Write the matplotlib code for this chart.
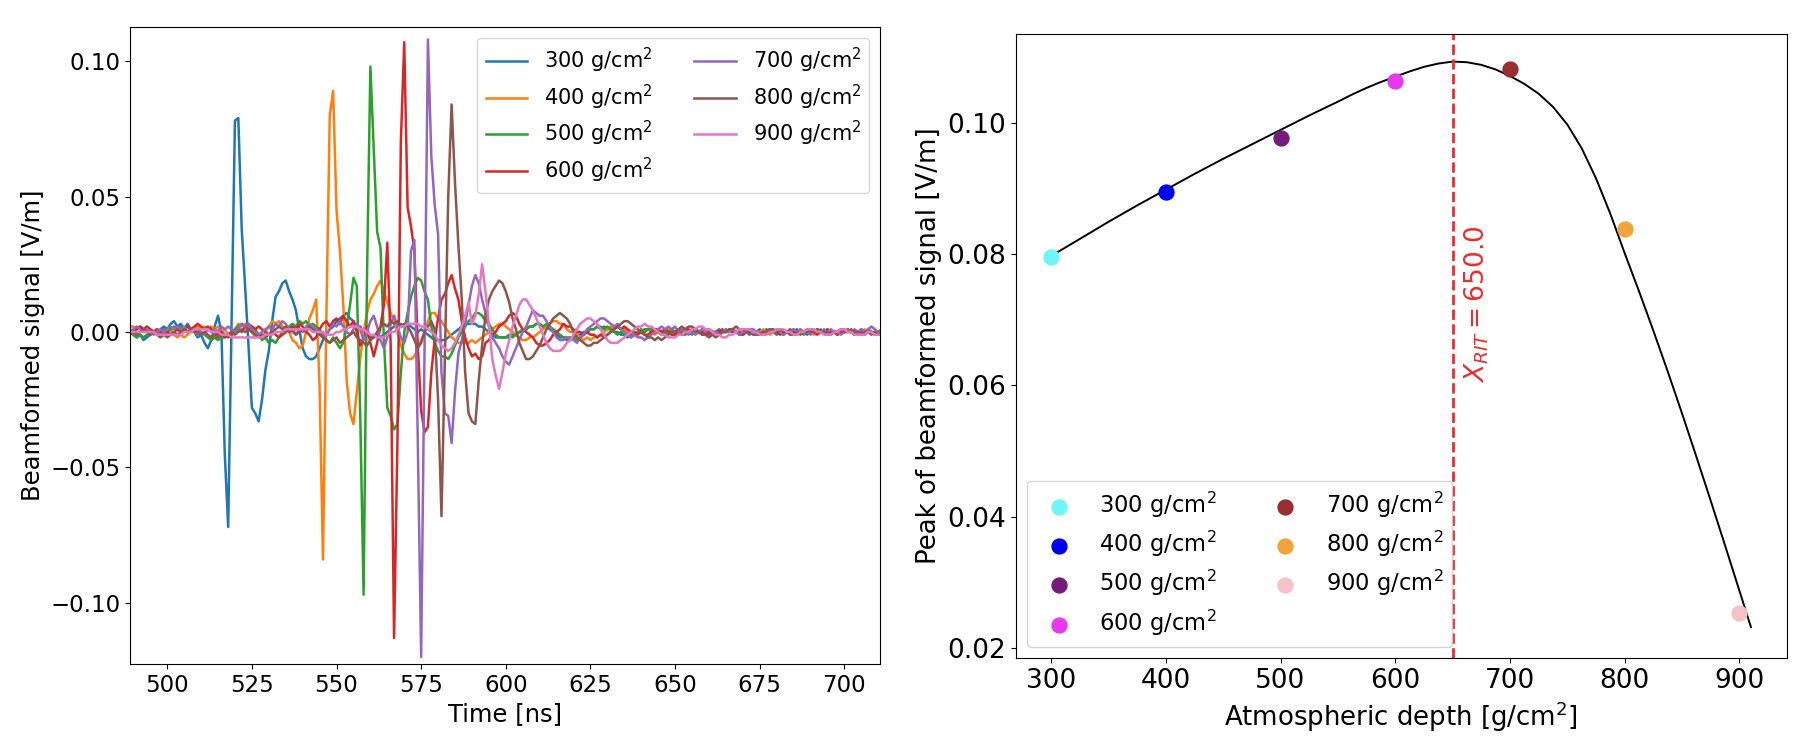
"""Beamformed traces per atmospheric depth and their peak amplitude. Writes out.png."""

import matplotlib
matplotlib.use("Agg")
import matplotlib.pyplot as plt
import numpy as np

# --- left panel: beamformed traces, 1 ns samples from 485 ns to 714 ns ---
TIME_NS = np.arange(485, 715)
DEPTHS: list[int] = [300, 400, 500, 600, 700, 800, 900]

TRACE_300 = [
    0.001, 0.000, 0.001, -0.001, 0.000, -0.001, -0.002, -0.001, -0.003, -0.002,   # 485
    -0.001, 0.000, -0.001, 0.001, 0.002, 0.001, 0.003, 0.004, 0.002, 0.003,       # 495
    0.001, 0.003, 0.001, 0.000, -0.002, -0.001, -0.004, -0.006, -0.003, 0.002,    # 505
    0.006, 0.000, -0.045, -0.072, 0.003, 0.078, 0.079, 0.038, 0.017, -0.005,      # 515
    -0.028, -0.030, -0.033, -0.025, -0.014, -0.007, 0.004, 0.013, 0.015, 0.018,   # 525
    0.019, 0.015, 0.012, 0.008, 0.001, -0.006, -0.009, -0.010, -0.010, -0.009,    # 535
    -0.006, -0.003, -0.001, 0.001, 0.002, 0.004, 0.005, 0.006, 0.007, 0.005,      # 545
    0.004, 0.002, 0.002, 0.000, -0.001, -0.002, -0.002, -0.001, -0.002, -0.001,   # 555
    0.000, 0.001, 0.002, 0.003, 0.003, 0.002, 0.003, 0.002, 0.001, 0.000,         # 565
    0.001, 0.000, -0.001, -0.002, -0.003, -0.003, -0.003, -0.003, -0.002, -0.001, # 575
    0.000, 0.001, 0.002, 0.003, 0.003, 0.003, 0.003, 0.002, 0.002, 0.001,         # 585
    0.000, -0.001, -0.002, -0.002, -0.002, -0.002, -0.002, -0.001, -0.001, 0.000, # 595
    0.000, 0.001, 0.002, 0.002, 0.003, 0.003, 0.002, 0.002, 0.001, 0.000,         # 605
    -0.001, -0.002, -0.002, -0.003, -0.002, -0.002, -0.001, -0.001, 0.000, 0.000, # 615
    0.001, 0.001, 0.002, 0.001, 0.002, 0.001, 0.001, 0.000, 0.000, -0.001,        # 625
    -0.001, -0.002, -0.001, -0.001, 0.000, 0.000, 0.001, 0.001, 0.000, 0.001,     # 635
    0.000, 0.000, -0.001, 0.000, -0.001, -0.001, 0.000, 0.000, 0.001, 0.000,      # 645
    0.001, 0.000, 0.000, -0.001, 0.000, -0.001, 0.000, 0.000, 0.001, 0.000,       # 655
    0.000, 0.001, 0.000, 0.000, -0.001, -0.001, 0.000, -0.001, 0.000, 0.000,      # 665
    0.001, 0.000, 0.001, 0.000, 0.000, -0.001, 0.000, -0.001, 0.000, 0.000,       # 675
    0.000, 0.001, 0.000, 0.000, -0.001, 0.000, 0.000, 0.001, 0.000, 0.000,        # 685
    -0.001, 0.000, 0.000, -0.001, 0.000, 0.000, 0.001, 0.000, 0.000, -0.001,      # 695
    0.000, 0.000, 0.001, 0.000, 0.000, -0.001, 0.000, 0.000, 0.000, 0.000,        # 705
]

TRACE_400 = [
    0.002, 0.001, 0.002, 0.001, 0.002, 0.002, 0.001, 0.002, 0.001, 0.000,
    0.001, 0.000, 0.001, -0.001, 0.000, -0.001, 0.001, -0.001, -0.002, -0.001,
    -0.002, -0.001, 0.000, 0.001, 0.002, 0.001, 0.002, 0.001, 0.002, 0.001,
    0.002, 0.000, 0.001, -0.001, 0.000, 0.001, 0.003, 0.002, 0.003, 0.001,
    0.000, -0.002, -0.001, -0.002, 0.000, 0.002, 0.004, 0.003, 0.004, 0.002,
    0.001, 0.000, -0.003, -0.004, -0.006, -0.005, 0.000, 0.005, 0.008, 0.012,
    -0.020, -0.084, 0.005, 0.080, 0.089, 0.045, 0.030, 0.010, -0.018, -0.030,
    -0.034, -0.022, -0.010, 0.000, 0.007, 0.012, 0.014, 0.017, 0.019, 0.015,
    0.011, 0.007, 0.004, 0.000, -0.005, -0.008, -0.010, -0.010, -0.009, -0.006,
    -0.003, 0.000, 0.004, 0.007, 0.007, 0.005, 0.004, 0.002, 0.000, -0.002,
    -0.003, -0.004, -0.004, -0.004, -0.004, -0.003, -0.004, -0.003, -0.002, -0.001,
    0.000, 0.001, 0.002, 0.003, 0.003, 0.002, 0.001, 0.000, -0.001, -0.002,
    -0.003, -0.003, -0.002, -0.002, -0.001, 0.000, 0.001, 0.002, 0.003, 0.004,
    0.004, 0.003, 0.003, 0.001, 0.000, 0.000, -0.001, -0.002, -0.003, -0.002,
    -0.003, -0.002, -0.002, -0.001, 0.000, 0.001, 0.002, 0.001, 0.002, 0.001,
    0.001, 0.000, 0.000, -0.001, 0.000, 0.001, 0.000, 0.001, 0.000, -0.001,
    0.000, -0.001, 0.000, 0.001, 0.001, 0.000, 0.000, -0.001, -0.001, 0.000,
    0.000, 0.001, 0.000, 0.001, 0.000, 0.000, -0.001, 0.000, -0.001, 0.000,
    0.001, 0.000, 0.001, 0.000, 0.000, -0.001, 0.000, 0.000, 0.001, 0.000,
    0.000, 0.001, 0.000, -0.001, 0.000, 0.000, 0.001, 0.000, 0.000, -0.001,
    0.000, 0.000, 0.001, 0.000, 0.001, 0.000, -0.001, 0.000, 0.000, 0.000,
    0.001, 0.000, 0.000, -0.001, 0.000, 0.001, 0.000, 0.000, -0.001, 0.000,
    0.000, 0.001, 0.000, 0.000, -0.001, 0.000, 0.000, 0.001, 0.000, 0.000,
]

TRACE_500 = [
    -0.001, 0.000, -0.001, -0.001, 0.000, -0.001, -0.002, -0.001, -0.002, -0.001,
    -0.001, 0.000, -0.001, 0.000, 0.001, 0.000, 0.001, 0.002, 0.001, 0.002,
    0.001, 0.002, 0.001, 0.000, 0.001, 0.000, -0.001, -0.002, -0.003, -0.002,
    -0.003, -0.002, -0.002, -0.001, 0.000, 0.001, 0.002, 0.003, 0.002, 0.003,
    0.002, 0.001, -0.001, -0.003, -0.002, -0.004, -0.003, -0.004, -0.002, 0.000,
    0.001, 0.002, 0.003, 0.002, 0.004, 0.003, 0.004, 0.002, 0.003, 0.002,
    0.001, -0.001, -0.003, -0.004, -0.002, -0.004, -0.006, -0.004, 0.002, 0.010,
    0.020, 0.017, -0.030, -0.097, 0.020, 0.098, 0.067, 0.037, 0.031, -0.003,
    -0.028, -0.031, -0.036, -0.034, -0.015, 0.000, 0.007, 0.013, 0.017, 0.020,
    0.019, 0.015, 0.012, 0.002, -0.004, -0.007, -0.009, -0.009, -0.010, -0.008,
    -0.005, -0.002, 0.000, 0.002, 0.004, 0.005, 0.007, 0.007, 0.006, 0.004,
    0.003, 0.001, -0.001, -0.002, -0.002, -0.002, -0.001, -0.002, -0.001, 0.000,
    0.001, 0.001, 0.002, 0.002, 0.003, 0.003, 0.002, 0.003, 0.002, 0.001,
    0.000, -0.001, -0.002, -0.002, -0.003, -0.002, -0.003, -0.002, -0.001, 0.000,
    0.001, 0.001, 0.002, 0.002, 0.001, 0.002, 0.001, 0.000, -0.001, 0.000,
    -0.001, -0.001, -0.002, -0.001, 0.000, 0.001, 0.000, 0.001, 0.001, 0.000,
    0.000, -0.001, 0.000, 0.000, 0.001, 0.000, 0.001, 0.000, -0.001, 0.000,
    -0.001, 0.000, 0.000, 0.001, 0.000, 0.001, 0.000, 0.000, -0.001, 0.000,
    0.000, 0.000, 0.001, 0.000, -0.001, 0.000, 0.000, 0.001, 0.000, 0.000,
    -0.001, 0.000, 0.000, 0.001, 0.001, 0.000, 0.000, -0.001, 0.000, 0.000,
    0.001, 0.000, 0.000, -0.001, 0.000, 0.000, 0.001, 0.000, 0.001, 0.000,
    0.000, -0.001, 0.000, 0.000, 0.001, 0.000, 0.000, 0.000, -0.001, 0.000,
    0.001, 0.000, 0.000, 0.000, -0.001, 0.000, 0.001, 0.000, 0.000, 0.000,
]

TRACE_600 = [
    0.002, 0.001, 0.002, 0.001, 0.001, 0.000, 0.001, 0.002, 0.001, 0.002,
    0.001, 0.000, 0.001, 0.000, -0.001, 0.000, -0.001, 0.000, 0.001, 0.000,
    0.001, 0.002, 0.001, 0.002, 0.003, 0.002, 0.001, 0.002, 0.001, 0.000,
    -0.001, 0.000, -0.001, -0.002, -0.001, 0.000, 0.001, 0.000, 0.002, 0.001,
    0.002, 0.001, 0.002, 0.001, 0.000, -0.001, 0.000, -0.001, -0.002, -0.001,
    0.000, 0.001, 0.002, 0.001, 0.003, 0.002, 0.000, -0.001, -0.003, -0.002,
    0.001, 0.003, 0.004, 0.002, 0.004, 0.005, 0.003, 0.006, 0.004, 0.002,
    0.004, 0.000, -0.005, -0.003, 0.002, -0.004, -0.009, -0.004, 0.002, 0.010,
    0.033, -0.005, -0.113, -0.040, 0.070, 0.107, 0.046, 0.039, 0.030, -0.005,
    -0.029, -0.037, -0.035, -0.015, -0.003, 0.005, 0.012, 0.014, 0.018, 0.021,
    0.016, 0.012, 0.004, -0.002, -0.006, -0.009, -0.008, -0.010, -0.009, -0.004,
    -0.003, -0.001, 0.000, 0.002, 0.003, 0.004, 0.006, 0.007, 0.006, 0.003,
    0.001, 0.000, -0.001, -0.002, -0.004, -0.005, -0.005, -0.004, -0.003, -0.001,
    0.000, 0.001, 0.003, 0.002, 0.002, 0.001, 0.000, 0.000, -0.001, 0.000,
    -0.001, -0.001, -0.002, -0.001, -0.002, -0.001, 0.000, 0.001, 0.002, 0.001,
    0.002, 0.001, 0.000, 0.000, -0.001, 0.000, -0.001, -0.001, 0.000, 0.001,
    0.001, 0.000, 0.001, 0.000, -0.001, -0.001, 0.000, -0.001, 0.000, 0.001,
    0.000, 0.001, 0.000, 0.000, -0.001, 0.000, -0.001, 0.000, 0.000, 0.001,
    0.000, 0.001, 0.000, 0.000, 0.000, -0.001, 0.000, 0.001, 0.000, 0.000,
    -0.001, 0.000, 0.000, 0.001, 0.000, 0.000, -0.001, 0.000, 0.000, 0.001,
    0.000, -0.001, 0.000, 0.000, 0.001, 0.000, 0.000, -0.001, 0.000, 0.000,
    0.001, 0.000, 0.000, -0.001, 0.000, 0.000, 0.001, 0.000, -0.001, 0.000,
    0.000, -0.001, 0.000, 0.000, -0.001, -0.001, 0.000, 0.000, 0.000, 0.000,
]

TRACE_700 = [
    0.000, 0.001, 0.000, 0.001, 0.000, 0.001, 0.002, 0.001, 0.000, 0.001,
    0.000, -0.001, 0.000, 0.001, 0.000, 0.001, 0.002, 0.001, 0.002, 0.001,
    0.002, 0.000, 0.001, 0.000, -0.001, 0.000, -0.001, 0.001, 0.000, 0.001,
    0.000, 0.002, 0.001, 0.002, 0.001, 0.000, 0.001, 0.003, 0.002, 0.003,
    0.001, 0.000, -0.001, 0.000, 0.001, 0.002, 0.001, 0.003, 0.002, 0.004,
    0.003, 0.001, 0.000, -0.001, 0.001, 0.000, 0.002, 0.003, 0.002, 0.001,
    0.000, -0.002, -0.001, 0.001, 0.003, 0.002, 0.004, 0.002, 0.000, -0.001,
    0.001, 0.003, 0.001, -0.003, 0.000, 0.004, 0.006, 0.002, -0.003, -0.006,
    -0.002, 0.003, 0.006, 0.002, -0.002, -0.004, 0.000, 0.030, 0.034, -0.040,
    -0.120, -0.005, 0.108, 0.065, 0.047, 0.036, -0.015, -0.030, -0.031, -0.041,
    -0.022, -0.008, -0.003, 0.003, 0.010, 0.017, 0.021, 0.018, 0.012, 0.007,
    0.002, -0.002, -0.004, -0.006, -0.009, -0.011, -0.012, -0.009, -0.006, -0.003,
    0.000, 0.002, 0.005, 0.008, 0.007, 0.006, 0.006, 0.004, 0.002, 0.000,
    -0.002, -0.003, -0.003, -0.002, -0.002, -0.003, -0.004, -0.002, -0.001, 0.001,
    0.002, 0.003, 0.004, 0.005, 0.005, 0.004, 0.003, 0.002, 0.003, 0.001,
    0.000, -0.001, -0.002, -0.001, -0.002, -0.002, -0.003, -0.002, -0.001, 0.000,
    0.001, 0.002, 0.001, 0.002, 0.001, 0.002, 0.000, 0.001, 0.000, -0.001,
    0.000, -0.001, 0.000, 0.001, 0.000, 0.001, 0.000, 0.000, -0.001, 0.000,
    0.001, 0.000, 0.001, 0.000, -0.001, 0.000, 0.000, 0.001, 0.001, 0.000,
    0.000, -0.001, 0.000, 0.001, 0.000, 0.001, 0.000, -0.001, 0.000, 0.000,
    0.001, 0.000, 0.001, 0.000, 0.000, -0.001, 0.000, 0.001, 0.000, 0.001,
    0.000, 0.001, 0.000, 0.000, -0.001, 0.000, 0.001, 0.000, 0.001, 0.000,
    0.001, 0.000, 0.001, 0.002, 0.001, 0.000, 0.000, 0.000, 0.000, 0.000,
]

TRACE_800 = [
    0.000, -0.001, 0.000, -0.001, -0.001, 0.000, -0.001, 0.000, 0.001, 0.000,
    -0.001, 0.000, -0.001, -0.002, -0.001, -0.002, -0.001, 0.000, -0.001, 0.000,
    0.001, 0.000, 0.001, 0.000, 0.000, -0.001, 0.000, -0.001, -0.002, -0.001,
    -0.002, -0.001, -0.002, -0.001, 0.000, -0.001, 0.000, 0.001, 0.000, 0.001,
    0.000, -0.001, -0.002, -0.001, -0.002, -0.001, 0.000, 0.001, 0.002, 0.001,
    0.002, 0.000, 0.001, -0.001, 0.000, 0.001, 0.000, 0.002, 0.001, 0.000,
    -0.001, -0.002, -0.003, -0.004, -0.003, -0.002, -0.004, -0.003, -0.002, -0.001,
    0.000, -0.002, -0.003, -0.004, -0.005, -0.003, -0.002, 0.000, 0.002, 0.003,
    0.002, 0.004, 0.003, 0.004, 0.002, 0.003, 0.002, 0.000, -0.003, -0.006,
    -0.004, 0.000, 0.002, 0.004, 0.001, -0.025, -0.068, -0.010, 0.050, 0.084,
    0.055, 0.032, 0.012, -0.015, -0.030, -0.033, -0.034, -0.018, -0.005, 0.006,
    0.012, 0.015, 0.017, 0.019, 0.018, 0.015, 0.011, 0.005, 0.001, -0.004,
    -0.007, -0.010, -0.010, -0.009, -0.007, -0.005, -0.002, 0.001, 0.003, 0.005,
    0.006, 0.007, 0.006, 0.005, 0.003, 0.000, -0.002, -0.003, -0.004, -0.005,
    -0.005, -0.004, -0.004, -0.003, -0.002, -0.001, 0.000, 0.001, 0.002, 0.003,
    0.004, 0.004, 0.003, 0.002, 0.001, 0.000, -0.001, -0.002, -0.002, -0.003,
    -0.002, -0.003, -0.002, -0.001, 0.000, 0.000, 0.001, 0.002, 0.001, 0.002,
    0.002, 0.001, 0.000, -0.001, -0.001, -0.002, -0.001, -0.002, -0.001, 0.000,
    0.000, 0.001, 0.001, 0.002, 0.001, 0.001, 0.000, 0.000, -0.001, -0.001,
    -0.001, 0.000, 0.000, 0.001, 0.001, 0.000, 0.001, 0.000, 0.000, -0.001,
    -0.001, 0.000, -0.001, 0.000, 0.000, 0.001, 0.000, 0.001, 0.000, 0.000,
    0.000, -0.001, 0.000, 0.000, 0.001, 0.000, 0.000, 0.001, 0.000, 0.000,
    -0.001, 0.000, 0.000, -0.001, 0.000, -0.001, 0.000, 0.000, 0.000, 0.000,
]

TRACE_900 = [
    0.001, 0.001, 0.001, 0.001, 0.000, 0.000, 0.000, 0.000, 0.000, 0.000,
    0.000, 0.000, -0.001, -0.001, -0.001, -0.001, -0.001, -0.001, -0.001, -0.001,
    0.000, 0.000, 0.000, 0.001, 0.001, 0.001, 0.001, 0.001, 0.000, 0.000,
    0.000, -0.001, -0.001, -0.001, -0.002, -0.002, -0.002, -0.002, -0.002, -0.002,
    -0.002, -0.002, -0.002, -0.002, -0.001, -0.001, -0.001, 0.000, 0.000, 0.000,
    0.001, 0.001, 0.001, 0.001, 0.001, 0.001, 0.001, 0.001, 0.000, 0.000,
    0.000, 0.000, -0.001, -0.001, -0.001, 0.000, 0.000, 0.001, 0.001, 0.002,
    0.002, 0.002, 0.001, 0.001, 0.000, -0.001, -0.001, -0.002, -0.002, -0.002,
    -0.001, 0.000, 0.000, 0.001, 0.002, 0.002, 0.003, 0.003, 0.003, 0.003,
    0.002, 0.002, 0.001, 0.000, -0.001, -0.003, -0.005, -0.006, -0.007, -0.006,
    -0.004, -0.001, 0.002, 0.006, 0.011, 0.003, 0.006, 0.014, 0.025, 0.015,
    0.003, -0.010, -0.016, -0.021, -0.015, -0.008, -0.003, 0.002, 0.006, 0.010,
    0.012, 0.012, 0.010, 0.008, 0.005, 0.002, -0.001, -0.004, -0.006, -0.007,
    -0.007, -0.007, -0.006, -0.004, -0.003, -0.001, 0.001, 0.003, 0.004, 0.005,
    0.005, 0.004, 0.003, 0.001, -0.001, -0.003, -0.004, -0.004, -0.004, -0.003,
    -0.002, -0.001, 0.000, 0.001, 0.002, 0.002, 0.003, 0.002, 0.002, 0.001,
    0.000, -0.001, -0.001, -0.002, -0.002, -0.002, -0.001, -0.001, 0.000, 0.000,
    0.001, 0.001, 0.002, 0.002, 0.001, 0.001, 0.000, -0.001, -0.001, -0.002,
    -0.002, -0.001, -0.001, 0.000, 0.001, 0.001, 0.001, 0.001, 0.000, 0.000,
    -0.001, -0.001, -0.001, 0.000, 0.000, 0.001, 0.001, 0.001, 0.000, 0.000,
    -0.001, -0.001, 0.000, 0.000, 0.001, 0.001, 0.001, 0.000, 0.000, -0.001,
    -0.001, -0.001, 0.000, 0.000, 0.001, 0.001, 0.000, 0.000, -0.001, -0.001,
    -0.001, -0.001, 0.000, 0.000, -0.001, -0.001, -0.001, -0.001, -0.001, -0.001,
]

TRACES = [TRACE_300, TRACE_400, TRACE_500, TRACE_600, TRACE_700, TRACE_800, TRACE_900]

# --- right panel: peak of each trace and the profile fit ---
PEAK_DEPTHS: list[int] = [300, 400, 500, 600, 700, 800, 900]
PEAK_VALUES: list[float] = [0.0795, 0.0895, 0.0976, 0.1063, 0.1082, 0.0838, 0.0253]
PEAK_COLOURS: list[str] = ["#6ef6f6", "#0000ee", "#771b7b", "#e838f0",
                           "#992e2e", "#f0a43a", "#f4c2c8"]

FIT_DEPTHS: list[float] = [300, 325, 350, 375, 400, 425, 450, 475, 500, 525, 550,
                           562.5, 575, 587.5, 600, 612.5, 625, 637.5, 650, 662.5, 675,
                           687.5, 700, 712.5, 725, 737.5, 750, 762.5, 775, 787.5, 800,
                           812.5, 825, 837.5, 850, 862.5, 875, 887.5, 900, 910]
FIT_VALUES: list[float] = [0.0797, 0.0823, 0.0849, 0.0874, 0.0898, 0.0922, 0.0945, 0.0967,
                           0.0989, 0.1011, 0.1032, 0.1043, 0.1053, 0.1062, 0.1070, 0.1078,
                           0.1085, 0.1090, 0.1093, 0.1092, 0.1088, 0.1081, 0.1071, 0.1059,
                           0.1044, 0.1024, 0.0997, 0.0961, 0.0915, 0.0861, 0.0801, 0.0743,
                           0.0683, 0.0621, 0.0557, 0.0491, 0.0424, 0.0356, 0.0287, 0.0232]
X_RIT: float = 650.0


def plot_traces(ax) -> None:
    """Beamformed signal versus time, one line per depth."""
    for depth, trace in zip(DEPTHS, TRACES):
        if len(trace) != len(TIME_NS):
            raise ValueError(f"trace {depth} has {len(trace)} samples")
        ax.plot(TIME_NS, trace, linewidth=1.8, label=f"{depth} g/cm$^2$")
    ax.set_xlim(489, 710.5)
    ax.set_ylim(-0.1226, 0.1125)
    ax.set_xticks(range(500, 701, 25))
    ax.set_yticks([-0.10, -0.05, 0.00, 0.05, 0.10])
    ax.tick_params(labelsize=16.5)
    ax.set_xlabel("Time [ns]", fontsize=17.5)
    ax.set_ylabel("Beamformed signal [V/m]", fontsize=17.5)
    ax.legend(ncol=2, fontsize=15, loc="upper right", labelspacing=0.35)


def plot_peaks(ax) -> None:
    """Peak amplitude versus atmospheric depth with the fitted profile."""
    ax.plot(FIT_DEPTHS, FIT_VALUES, color="black", linewidth=1.4)
    for depth, value, colour in zip(PEAK_DEPTHS, PEAK_VALUES, PEAK_COLOURS):
        ax.scatter(depth, value, s=115, color=colour, label=f"{depth} g/cm$^2$", zorder=3)
    ax.axvline(X_RIT, color="#ee2b2b", linestyle="--", linewidth=2)
    ax.text(X_RIT + 9, 0.0604, rf"$X_{{RIT}} = {X_RIT}$", rotation=90,
            ha="left", va="bottom", fontsize=19, color="#ee2b2b")
    ax.set_xlim(269, 941.5)
    ax.set_ylim(0.0185, 0.1135)
    ax.set_xticks(range(300, 901, 100))
    ax.set_yticks([0.02, 0.04, 0.06, 0.08, 0.10])
    ax.tick_params(labelsize=19)
    ax.set_xlabel("Atmospheric depth [g/cm$^2$]", fontsize=18.7)
    ax.set_ylabel("Peak of beamformed signal [V/m]", fontsize=18.7)
    ax.legend(ncol=2, fontsize=16.3, loc="lower left", scatterpoints=1, labelspacing=0.4)


def main() -> None:
    fig = plt.figure(figsize=(18.18, 7.44), dpi=100)
    ax_left = fig.add_axes([0.0715, 0.1075, 0.4125, 0.8558])
    ax_right = fig.add_axes([0.5586, 0.1156, 0.4244, 0.8387])
    plot_traces(ax_left)
    plot_peaks(ax_right)
    fig.savefig("out.png", dpi=100)
    plt.close(fig)


if __name__ == "__main__":
    main()
